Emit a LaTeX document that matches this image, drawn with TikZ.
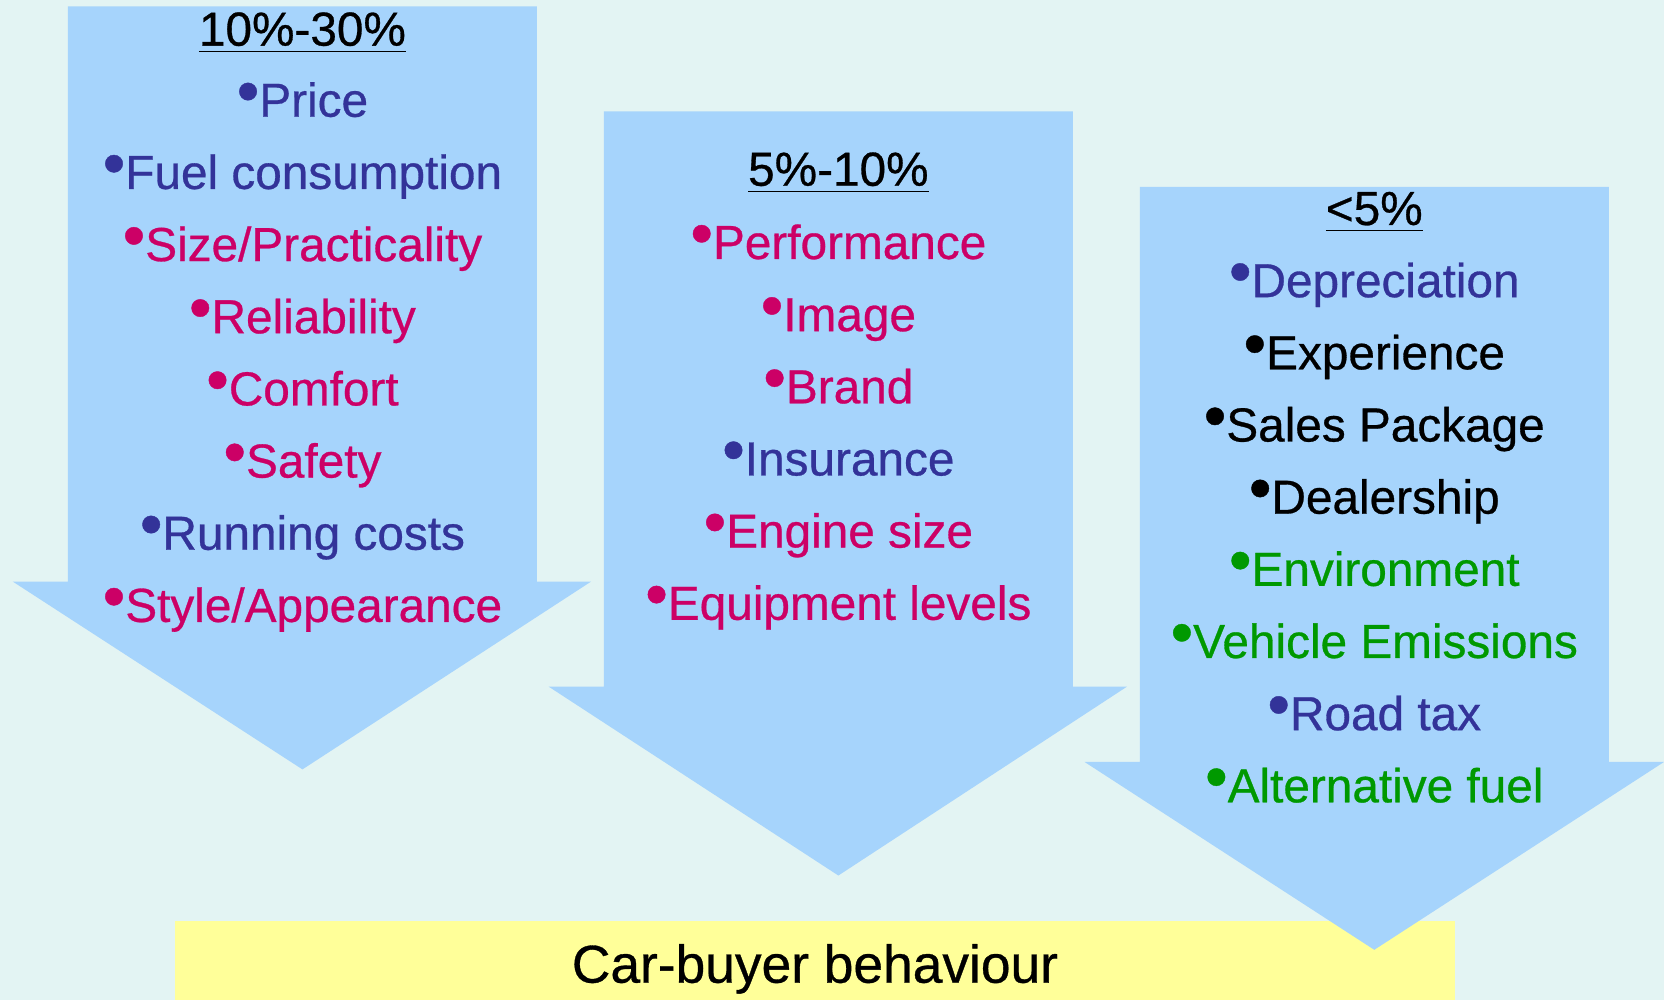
\documentclass[tikz,border=0pt]{standalone}
\usepackage{fontspec}
\setmainfont{Liberation Sans}[FakeBold=0.6]
\usepackage{xcolor}

\definecolor{bgcyan}{HTML}{E3F4F3}
\definecolor{arrowblue}{HTML}{A6D4FC}
\definecolor{boxyellow}{HTML}{FFFF99}
\definecolor{itemblue}{HTML}{333399}
\definecolor{itemred}{HTML}{CC0066}
\definecolor{itemgreen}{HTML}{009900}

\newcommand{\blt}{\raisebox{.08em}{\scalebox{1.35}{\textbullet}}}
\newcommand{\hdline}[1]{\underline{#1}}

\tikzset{
    item/.style={anchor=base, inner sep=0pt, font=\fontsize{12.8}{15}\selectfont},
    heading/.style={item, text=black}
}

\begin{document}
\begin{tikzpicture}[x=0.1mm, y=-0.1mm]
            \useasboundingbox (0,0) rectangle (1568,942);
            \fill[color=bgcyan] (0,0) rectangle (1568,942);

            % yellow base box
            \fill[color=boxyellow] (165,868) rectangle (1371,942);
            \node[item, font=\fontsize{14.3}{17}\selectfont] (title) at (768,926) {Car-buyer behaviour};

            % three arrows
            \fill[color=arrowblue] (64,6) -- (506,6) -- (506,548) -- (557,548) -- (285,725) -- (12,548) -- (64,548) -- cycle;
            \fill[color=arrowblue] (569,105) -- (1011,105) -- (1011,647) -- (1062,647) -- (790,825) -- (517,647) -- (569,647) -- cycle;
            \fill[color=arrowblue] (1074,176) -- (1516,176) -- (1516,718) -- (1568,718) -- (1295,895) -- (1022,718) -- (1074,718) -- cycle;

            % first arrow
            \node[heading] (hA) at (285,43) {\hdline{10\%-30\%}};
            \node[item, text=itemblue] (price) at (285,110) {\blt Price};
            \node[item, text=itemblue] (fuel) at (285,178) {\blt Fuel consumption};
            \node[item, text=itemred] (size) at (285,246) {\blt Size/Practicality};
            \node[item, text=itemred] (reliab) at (285,314) {\blt Reliability};
            \node[item, text=itemred] (comfort) at (285,382) {\blt Comfort};
            \node[item, text=itemred] (safety) at (285,450) {\blt Safety};
            \node[item, text=itemblue] (running) at (285,518) {\blt Running costs};
            \node[item, text=itemred] (style) at (285,586) {\blt Style/Appearance};

            % second arrow
            \node[heading] (hB) at (790,175) {\hdline{5\%-10\%}};
            \node[item, text=itemred] (perf) at (790,244) {\blt Performance};
            \node[item, text=itemred] (image) at (790,312) {\blt Image};
            \node[item, text=itemred] (brand) at (790,380) {\blt Brand};
            \node[item, text=itemblue] (insur) at (790,448) {\blt Insurance};
            \node[item, text=itemred] (engine) at (790,516) {\blt Engine size};
            \node[item, text=itemred] (equip) at (790,584) {\blt Equipment levels};

            % third arrow
            \node[heading] (hC) at (1295,212) {\hdline{<5\%}};
            \node[item, text=itemblue] (deprec) at (1295,280) {\blt Depreciation};
            \node[item, text=black] (exper) at (1295,348) {\blt Experience};
            \node[item, text=black] (sales) at (1295,416) {\blt Sales Package};
            \node[item, text=black] (dealer) at (1295,484) {\blt Dealership};
            \node[item, text=itemgreen] (environ) at (1295,552) {\blt Environment};
            \node[item, text=itemgreen] (emiss) at (1295,620) {\blt Vehicle Emissions};
            \node[item, text=itemblue] (roadtax) at (1295,688) {\blt Road tax};
            \node[item, text=itemgreen] (altfuel) at (1295,756) {\blt Alternative fuel};
        \end{tikzpicture}
\end{document}
